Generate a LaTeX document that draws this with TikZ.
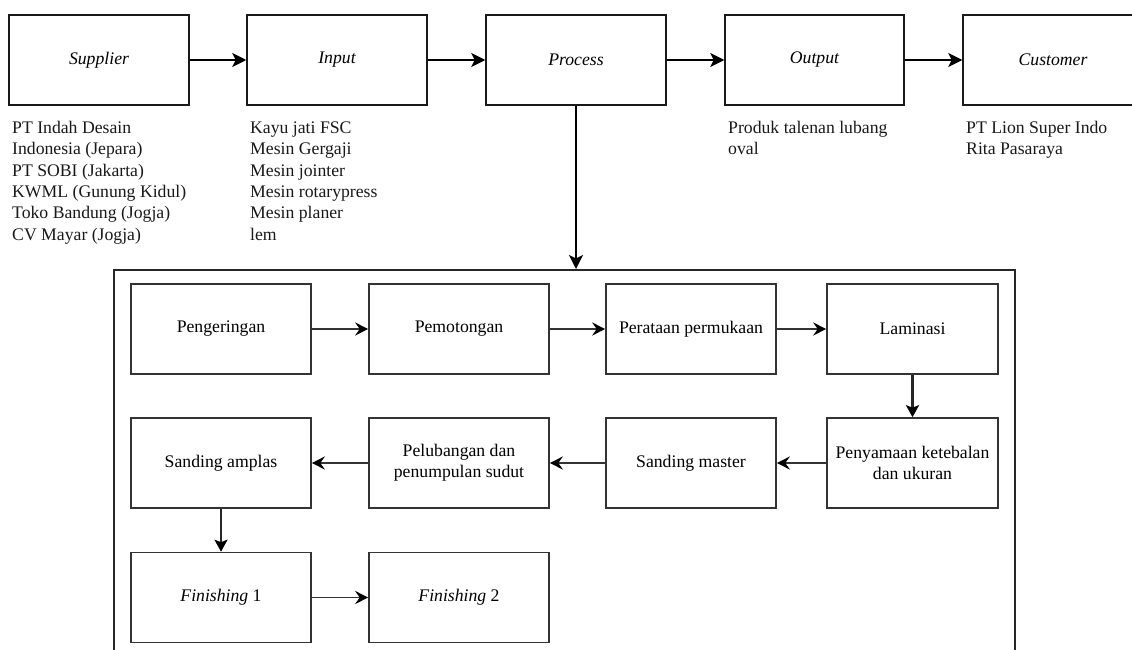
\documentclass[tikz,border=0pt]{standalone}
\usepackage{fontspec}
\setmainfont{Liberation Serif}
\usetikzlibrary{arrows.meta}
\begin{document}
\begin{tikzpicture}[x=1pt,y=-1pt,
  every node/.style={font=\fontsize{17.7}{21.3}\selectfont},
  mainbox/.style={draw=black!90,line width=1.5pt,minimum width=180pt,minimum height=90pt,inner sep=0pt,font=\fontsize{17.7}{21.3}\selectfont\itshape},
  stepbox/.style={draw=black!80,line width=1.6pt,minimum width=#1,minimum height=90pt,inner sep=0pt,align=center},
  stepbox/.default=180pt,
  listtext/.style={anchor=base west,align=left,inner sep=0pt,text=black!90},
  flow/.style={line width=1.8pt,-{Stealth[length=14pt,width=14pt,inset=3.5pt]}},
  subflow/.style={draw=black!80,line width=1.8pt,-{Stealth[length=13pt,width=13pt,inset=4.5pt,color=black]}},
  drop/.style={draw=black!85,line width=2.8pt,-{Stealth[length=12pt,width=13pt,inset=2.5pt,color=black]}}
]
\useasboundingbox (0,0) rectangle (1132,650);
\clip (0,0) rectangle (1132,650);
\fill[white] (0,0) rectangle (1132,650);

% SIPOC row
\node[mainbox] (supplier) at (99,60) {Supplier};
\node[mainbox] (input) at (337,60) {Input};
\node[mainbox] (process) at (576,60) {Process};
\node[mainbox,minimum width=179pt] (output) at (814.5,60) {Output};
\node[mainbox] (customer) at (1053,60) {Customer};

\draw[flow] (supplier) -- (input);
\draw[flow] (input) -- (process);
\draw[flow] (process) -- (output);
\draw[flow] (output) -- (customer);

% descriptions under each box (placed by the baseline of their last line)
\node[listtext] (suppliertext) at (12,240) {PT Indah Desain\\Indonesia (Jepara)\\PT SOBI (Jakarta)\\KWML (Gunung Kidul)\\Toko Bandung (Jogja)\\CV Mayar (Jogja)};
\node[listtext] (inputtext) at (250,240) {Kayu jati FSC\\Mesin Gergaji\\Mesin jointer\\Mesin rotarypress\\Mesin planer\\lem};
\node[listtext] (outputtext) at (728,154.8) {Produk talenan lubang\\oval};
\node[listtext] (customertext) at (966,154.8) {PT Lion Super Indo\\Rita Pasaraya};

% process detail frame (open at the bottom edge)
\node[draw=black!85,line width=1.5pt,anchor=north west,minimum width=901pt,minimum height=420pt,inner sep=0pt] (frame) at (113,269) {};
\draw[flow] (process.south) -- (process.south |- frame.north);

% process steps
\node[stepbox] (pengeringan) at (221,329) {Pengeringan};
\node[stepbox] (pemotongan) at (459,329) {Pemotongan};
\node[stepbox=170pt] (perataan) at (691,329) {Perataan permukaan};
\node[stepbox=171pt] (laminasi) at (912.5,329) {Laminasi};

\node[stepbox] (amplas) at (221,463) {Sanding amplas};
\node[stepbox] (pelubangan) at (459,463) {Pelubangan dan\\penumpulan sudut};
\node[stepbox=170pt] (master) at (691,463) {Sanding master};
\node[stepbox=171pt] (penyamaan) at (912.5,463) {Penyamaan ketebalan\\dan ukuran};

\node[stepbox] (finishing1) at (221,597.5) {\textit{Finishing} 1};
\node[stepbox] (finishing2) at (459,597.5) {\textit{Finishing} 2};

\draw[subflow] (pengeringan) -- (pemotongan);
\draw[subflow] (pemotongan) -- (perataan);
\draw[subflow] (perataan) -- (laminasi);
\draw[drop] (laminasi) -- (penyamaan);
\draw[subflow] (penyamaan) -- (master);
\draw[subflow] (master) -- (pelubangan);
\draw[subflow] (pelubangan) -- (amplas);
\draw[drop] (amplas) -- (finishing1);
\draw[subflow] (finishing1) -- (finishing2);
\end{tikzpicture}
\end{document}
